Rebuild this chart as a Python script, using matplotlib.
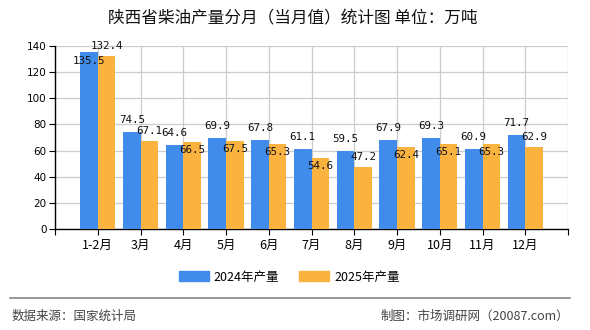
import numpy as np
import matplotlib
matplotlib.use('Agg')
import matplotlib.pyplot as plt
from matplotlib.patches import Patch

plt.rcParams['font.family'] = ['Noto Sans CJK SC', 'DejaVu Sans']

months = ['1-2月', '3月', '4月', '5月', '6月', '7月', '8月', '9月', '10月', '11月', '12月']
prod_2024 = [135.5, 74.5, 64.6, 69.9, 67.8, 61.1, 59.5, 67.9, 69.3, 60.9, 71.7]
prod_2025 = [132.4, 67.1, 66.5, 67.5, 65.3, 54.6, 47.2, 62.4, 65.1, 65.3, 62.9]
series_names = ['2024年产量', '2025年产量']

# where each value label sits relative to its bar top (1 = above, -1 = below)
pos_2024 = [-1, 1, 1, 1, 1, 1, 1, 1, 1, 1, 1]
pos_2025 = [1, 1, -1, -1, -1, -1, 1, -1, -1, -1, 1]

BLUE = '#418BEB'
ORANGE = '#FBB33F'

fig = plt.figure(figsize=(5.9, 3.3), dpi=100)
ax = fig.add_axes([55 / 590, 1 - 229 / 330, 513 / 590, 183 / 330])

x = np.arange(1, len(months) + 1)
w = 0.41
b1 = ax.bar(x - w / 2, prod_2024, w, color=BLUE, zorder=3)
b2 = ax.bar(x + w / 2, prod_2025, w, color=ORANGE, zorder=3)

def label_bars(bars, vals, pos, up_px, down_px):
    for bar, v, p in zip(bars, vals, pos):
        off = up_px if p > 0 else -down_px
        ax.annotate('%.1f' % v, (bar.get_x() + bar.get_width() / 2, v),
                    xytext=(0, off * 0.72), textcoords='offset points',
                    ha='center', va='center', fontsize=7.8,
                    family='DejaVu Sans Mono', color='#111111', zorder=5)

label_bars(b1, prod_2024, pos_2024, 12, 9)
label_bars(b2, prod_2025, pos_2025, 10, 8)

ax.set_xlim(0, len(months) + 1)
ax.set_ylim(0, 140)
ax.set_yticks(np.arange(0, 141, 20))
ax.set_xticks(np.arange(0, len(months) + 2))
ax.set_xticklabels([''] + months + [''])
ax.grid(True, color='#cccccc', linewidth=0.9, zorder=0)
for s in ['top', 'right']:
    ax.spines[s].set_visible(False)
for s in ['left', 'bottom']:
    ax.spines[s].set_color('black')
    ax.spines[s].set_linewidth(1.0)
ax.tick_params(axis='y', labelsize=7.5, length=4, pad=2)
ax.tick_params(axis='x', labelsize=9, length=4, pad=3)
for t in ax.get_yticklabels():
    t.set_family('DejaVu Sans')

fig.text(0.497, 0.942, '陕西省柴油产量分月（当月值）统计图 单位：万吨',
         ha='center', va='center', fontsize=12, color='#111111')

handles = [Patch(color=BLUE), Patch(color=ORANGE)]
fig.legend(handles, series_names, loc='center', bbox_to_anchor=(0.49, 1 - 277 / 330),
           ncol=2, frameon=False, fontsize=9, handlelength=2.4, handleheight=0.9,
           columnspacing=1.6, handletextpad=0.4)

fig.add_artist(plt.Line2D([10 / 590, 570 / 590], [1 - 298 / 330] * 2,
                          color='#888888', linewidth=1.2))
fig.text(12 / 590, 1 - 316 / 330, '数据来源：国家统计局', ha='left', va='center',
         fontsize=9, color='#444444')
fig.text(569 / 590, 1 - 316 / 330, '制图：市场调研网（20087.com）', ha='right', va='center',
         fontsize=9, color='#444444')

fig.savefig('out.png', dpi=100)
